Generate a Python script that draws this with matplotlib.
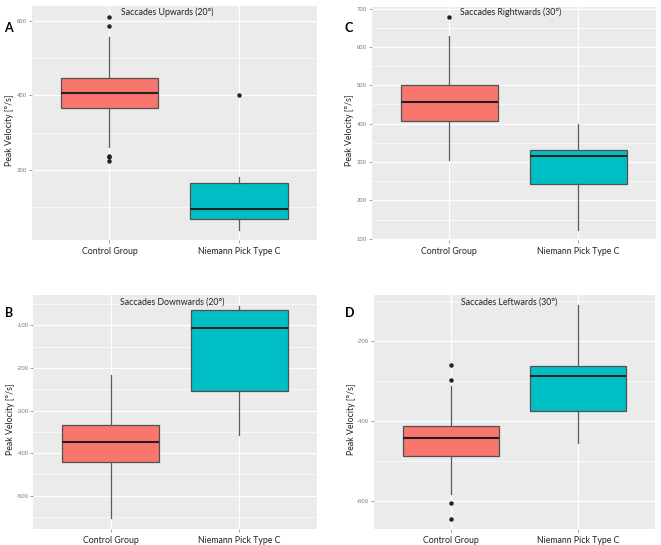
import matplotlib
matplotlib.use("Agg")

import matplotlib.pyplot as plt
import numpy as np

# groups shown on every panel
groups = ["Control Group", "Niemann Pick Type C"]
fills = ["#F8766D", "#00BFC4"]

# box statistics: [control, npc]
# (whislo, q1, med, q3, whishi)
up_stats = [(262, 367, 405, 446, 557), (41, 69, 96, 166, 182)]
up_fliers = [[609, 586, 239, 234, 224], [401]]

right_stats = [(305, 408, 456, 501, 628), (122, 242, 316, 330, 400)]
right_fliers = [[678], []]

down_stats = [(-553, -421, -375, -333, -217), (-358, -255, -106, -64, -54)]
down_fliers = [[], []]

left_stats = [(-584, -489, -444, -413, -314), (-455, -375, -287, -263, -111)]
left_fliers = [[-260, -297, -607, -645], []]

W, H = 661, 545
fig = plt.figure(figsize=(W / 100, H / 100), dpi=100)

txt_font = ["Lato", "DejaVu Sans"]
tick_font = ["Liberation Sans", "DejaVu Sans"]


def panel(box, stats, fliers, title, letter, ylim, major, minor, title_x, letter_x, title_y, letter_y):
    l, t, r, b = box
    ax = fig.add_axes([l / W, 1 - b / H, (r - l) / W, (b - t) / H])
    ax.set_facecolor("#EBEBEB")
    for s in ax.spines.values():
        s.set_visible(False)

    bxp_stats = []
    for (lo, q1, med, q3, hi), fl in zip(stats, fliers):
        bxp_stats.append(dict(whislo=lo, q1=q1, med=med, q3=q3, whishi=hi, fliers=fl))
    arts = ax.bxp(bxp_stats, positions=[1, 2], widths=0.75, patch_artist=True,
                  showcaps=False,
                  boxprops=dict(edgecolor="#505050", linewidth=0.9),
                  medianprops=dict(color="#222222", linewidth=1.5),
                  whiskerprops=dict(color="#5a5a5a", linewidth=0.9),
                  flierprops=dict(marker="o", markerfacecolor="#222222",
                                  markeredgecolor="#222222", markersize=2.2))
    for p, c in zip(arts["boxes"], fills):
        p.set_facecolor(c)
    for a in arts["boxes"] + arts["medians"] + arts["whiskers"] + arts["fliers"]:
        a.set_zorder(3)

    ax.set_xlim(0.4, 2.6)
    ax.set_ylim(*ylim)
    ax.set_yticks(major)
    ax.set_yticks(minor, minor=True)
    ax.set_xticks([1, 2])
    ax.set_xticklabels(groups, family=txt_font, fontsize=6.3, color="#222222")
    ax.set_yticklabels([str(v) for v in major], family=tick_font, fontsize=4.3, color="#7a7a7a")
    ax.tick_params(axis="y", which="major", length=2, width=0.5, color="#7a7a7a", pad=1.5)
    ax.tick_params(axis="y", which="minor", length=0)
    ax.tick_params(axis="x", length=2, width=0.5, color="#7a7a7a", pad=3)
    ax.grid(True, which="major", color="white", linewidth=0.9, zorder=0)
    ax.grid(True, which="minor", axis="y", color="white", linewidth=0.45, zorder=0)
    ax.set_axisbelow(True)
    ax.set_ylabel("Peak Velocity [°/s]", family=txt_font, fontsize=6.3, color="#222222")
    # label sits just left of the tick labels, a bit below centre
    ax.yaxis.set_label_coords(-18 / (r - l), 0.47)

    fig.text(title_x / W, 1 - title_y / H, title, family=txt_font, fontsize=6.3,
             ha="center", va="center", color="#222222")
    fig.text(letter_x / W, 1 - letter_y / H, letter, family=txt_font, fontsize=9,
             fontweight="bold", ha="center", va="center")
    return ax


panel((31.7, 6, 316.7, 240), up_stats, up_fliers, "Saccades Upwards (20°)", "A",
      (13, 639), [200, 400, 600], [100, 300, 500], 167, 8.5, 12.3, 27.5)
panel((371.7, 7, 655.7, 240), right_stats, right_fliers, "Saccades Rightwards (30°)", "C",
      (96.6, 704), list(range(100, 701, 100)), list(range(150, 701, 100)), 511, 349, 12.3, 27.7)
panel((33.3, 295, 316.7, 529), down_stats, down_fliers, "Saccades Downwards (20°)", "B",
      (-578, -29), list(range(-500, -99, 100)), list(range(-550, -49, 100)), 172.5, 9, 301.7, 312.7)
panel((374, 295, 655, 529), left_stats, left_fliers, "Saccades Leftwards (30°)", "D",
      (-671, -85), [-600, -400, -200], [-500, -300, -100], 509, 349.5, 301.7, 313)

fig.savefig("out.png", dpi=100)
